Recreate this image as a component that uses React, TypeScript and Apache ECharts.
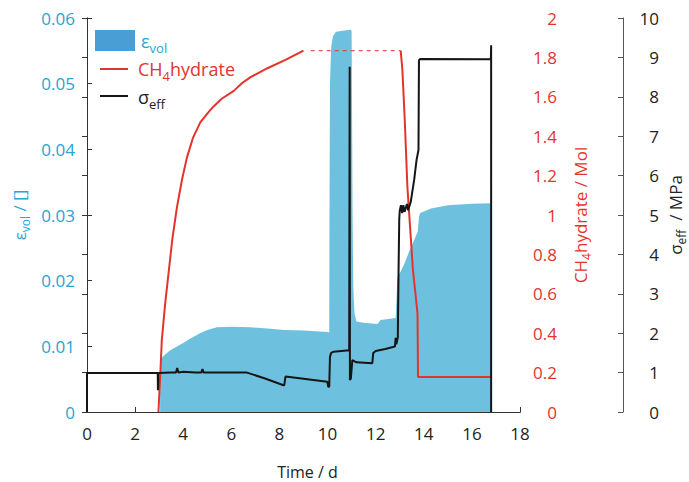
import React, { useEffect, useRef } from "react";
import * as echarts from "echarts";

const FONT = "'Open Sans', 'DejaVu Sans', sans-serif";
const CYAN = "#27a4d2";
const RED = "#e3342c";
const BLACK = "#151515";
const FILL = "#6ec1de";

// Time axis ticks (days)
const timeTicks = [0, 2, 4, 6, 8, 10, 12, 14, 16, 18];

// ε_vol [-] : [time d, value]
const volData: [number, number][] = [
  [3.04, 0.0079], [3.2, 0.0086], [3.46, 0.0094], [3.7, 0.0099], [4.0, 0.0105],
  [4.3, 0.0112], [4.7, 0.012], [5.0, 0.0125], [5.4, 0.0129], [6.0, 0.013],
  [6.8, 0.0129], [7.5, 0.0127], [8.2, 0.0125], [9.0, 0.0124], [10.0, 0.0122],
  [10.07, 0.0121], [10.08, 0.03], [10.1, 0.05], [10.15, 0.0555], [10.22, 0.0572],
  [10.35, 0.0579], [10.7, 0.0581], [10.97, 0.0582], [11.0, 0.058], [11.02, 0.045],
  [11.04, 0.03], [11.07, 0.019], [11.12, 0.015], [11.2, 0.0138], [11.5, 0.0136],
  [12.08, 0.0134], [12.2, 0.014], [12.83, 0.0143], [12.86, 0.0165], [12.9, 0.0205],
  [13.04, 0.0214], [13.17, 0.0224], [13.4, 0.0245], [13.6, 0.0262], [13.75, 0.0275],
  [13.8, 0.0297], [13.85, 0.0303], [14.3, 0.031], [15.0, 0.0315], [16.0, 0.0317],
  [16.8, 0.0318],
];

// CH4 hydrate [Mol]
const hydrateRise: [number, number][] = [
  [2.97, 0], [3.05, 0.2], [3.11, 0.365], [3.25, 0.55], [3.39, 0.705], [3.55, 0.88],
  [3.74, 1.04], [3.95, 1.18], [4.15, 1.29], [4.4, 1.39], [4.71, 1.47], [5.0, 1.515],
  [5.25, 1.55], [5.6, 1.59], [6.1, 1.63], [6.45, 1.67], [6.8, 1.7], [7.5, 1.745],
  [8.25, 1.787], [9.0, 1.834],
];
const hydrateGap: [number, number][] = [
  [9.3, 1.834], [13.04, 1.834],
];
const hydrateFall: [number, number][] = [
  [13.04, 1.834], [13.11, 1.74], [13.21, 1.48], [13.32, 1.14], [13.43, 0.94],
  [13.55, 0.72], [13.74, 0.5], [13.76, 0.178], [16.8, 0.178],
];

// σ_eff [MPa]
const sigmaData: [number, number][] = [
  [0, 0], [0, 0.99], [2.94, 0.99], [2.95, 0.55], [2.97, 0.99], [3.5, 1.0], [3.7, 1.0],
  [3.75, 1.12], [3.8, 1.0], [4.0, 1.02], [4.5, 1.0], [4.75, 1.0], [4.8, 1.09],
  [4.85, 1.0], [6.65, 1.0], [7.4, 0.85], [8.17, 0.68], [8.2, 0.68], [8.25, 0.9],
  [9.99, 0.77], [10.03, 0.64], [10.07, 0.64], [10.1, 1.4], [10.15, 1.5], [10.25, 1.53],
  [10.9, 1.57], [10.92, 8.76], [10.93, 0.81], [10.97, 0.85], [11.03, 1.32], [11.2, 1.26],
  [11.86, 1.24], [11.9, 1.5], [12.0, 1.55], [12.4, 1.6], [12.8, 1.66], [12.83, 1.88],
  [12.86, 1.72], [12.92, 1.9], [12.95, 3.5], [12.98, 4.9], [13.0, 5.1], [13.05, 5.25],
  [13.1, 5.05], [13.15, 5.25], [13.2, 5.08], [13.3, 5.28], [13.35, 5.12], [13.46, 5.34],
  [13.6, 5.89], [13.7, 6.4], [13.78, 6.65], [13.8, 8.93], [13.85, 8.96], [16.79, 8.95],
  [16.8, 9.31], [16.8, 0],
];

const sub = (color: string) => ({
  main: { fontSize: 17, lineHeight: 24, color, fontFamily: FONT },
  sub: { fontSize: 12, lineHeight: 12, verticalAlign: "bottom", color, fontFamily: FONT },
});

const gsub = (color: string) => ({
  main: { fontSize: 18, lineHeight: 26, fill: color, fontFamily: FONT },
  sub: { fontSize: 13, lineHeight: 13, verticalAlign: "bottom", fill: color, fontFamily: FONT },
});

export default function App() {
  const ref = useRef<HTMLDivElement>(null);
  useEffect(() => {
    document.body.style.margin = "0";
    if (!ref.current) return;
    const chart = echarts.init(ref.current, null, { renderer: "svg" });
    const axisLineStyle = { color: "#333", width: 1 };
    chart.setOption({
      animation: false,
      textStyle: { fontFamily: FONT },
      grid: { left: 87, right: 169, top: 18, bottom: 70, containLabel: false, outerBoundsMode: "none" },
      xAxis: [
        {
          type: "value",
          min: timeTicks[0],
          max: timeTicks[timeTicks.length - 1],
          interval: 2,
          position: "bottom",
          axisLine: { show: true, lineStyle: axisLineStyle },
          axisTick: { show: true, inside: true, length: 5, lineStyle: axisLineStyle },
          axisLabel: { fontSize: 17, color: "#222", margin: 13, fontFamily: FONT },
          splitLine: { show: false },
          name: "Time / d",
          nameLocation: "middle",
          nameGap: 52,
          nameMoveOverlap: false,
          nameTextStyle: { fontSize: 16, color: "#222", fontFamily: FONT, padding: [0, 0, 0, 8] },
        },
        {
          type: "value",
          min: 0,
          max: 18,
          position: "top",
          axisLine: { show: true, lineStyle: axisLineStyle },
          axisTick: { show: false },
          axisLabel: { show: false },
          splitLine: { show: false },
        },
      ],
      yAxis: [
        {
          type: "value",
          min: 0,
          max: 0.06,
          interval: 0.01,
          position: "left",
          axisLine: { show: true, lineStyle: axisLineStyle },
          axisTick: { show: true, inside: true, length: 5, lineStyle: axisLineStyle },
          axisLabel: { fontSize: 17, color: CYAN, margin: 12, fontFamily: FONT },
          splitLine: { show: false },
          name: "{main|ε}{sub|vol}{main| / []}",
          nameLocation: "middle",
          nameGap: 56,
          nameMoveOverlap: false,
          nameTextStyle: { color: CYAN, fontSize: 17, rich: sub(CYAN) },
        },
        {
          type: "value",
          min: 0,
          max: 2,
          interval: 0.2,
          position: "right",
          offset: 0,
          axisLine: { show: true, lineStyle: axisLineStyle },
          axisTick: { show: true, inside: true, length: 5, lineStyle: axisLineStyle },
          axisLabel: { fontSize: 17, color: RED, margin: 37, align: "right", fontFamily: FONT },
          splitLine: { show: false },
          name: "{main|CH}{sub|4}{main|hydrate / Mol}",
          nameLocation: "middle",
          nameGap: 48,
          nameMoveOverlap: false,
          nameTextStyle: { color: RED, fontSize: 17, rich: sub(RED) },
        },
        {
          type: "value",
          min: 0,
          max: 10,
          interval: 1,
          position: "right",
          offset: 103,
          axisLine: { show: true, lineStyle: { color: "#555", width: 1 } },
          axisTick: { show: true, inside: true, length: 5, lineStyle: { color: "#555" } },
          axisLabel: { fontSize: 17, color: "#222", margin: 36, align: "right", fontFamily: FONT },
          splitLine: { show: false },
          name: "{main|σ}{sub|eff}{main|  / MPa}",
          nameLocation: "middle",
          nameGap: 40,
          nameMoveOverlap: false,
          nameTextStyle: { color: "#222", fontSize: 17, rich: sub("#222") },
        },
      ],
      graphic: [
        { type: "rect", shape: { x: 95, y: 30, width: 40, height: 21 }, style: { fill: "#4a9ed6" } },
        {
          type: "text", x: 141, y: 41,
          style: { text: "{main|ε}{sub|vol}", rich: gsub(CYAN), verticalAlign: "middle", align: "left" },
        },
        { type: "line", shape: { x1: 100, y1: 69, x2: 128, y2: 69 }, style: { stroke: RED, lineWidth: 2 } },
        {
          type: "text", x: 138, y: 69,
          style: { text: "{main|CH}{sub|4}{main|hydrate}", rich: gsub(RED), verticalAlign: "middle", align: "left" },
        },
        { type: "line", shape: { x1: 100, y1: 96, x2: 128, y2: 96 }, style: { stroke: BLACK, lineWidth: 2 } },
        {
          type: "text", x: 138, y: 97,
          style: { text: "{main|σ}{sub|eff}", rich: gsub("#222"), verticalAlign: "middle", align: "left" },
        },
      ],
      series: [
        {
          name: "ε_vol",
          type: "line",
          xAxisIndex: 0,
          yAxisIndex: 0,
          data: volData,
          showSymbol: false,
          symbol: "none",
          lineStyle: { width: 0, color: FILL },
          areaStyle: { color: FILL, opacity: 1 },
          z: 1,
        },
        {
          name: "CH4hydrate",
          type: "line",
          yAxisIndex: 1,
          data: hydrateRise,
          symbol: "none",
          lineStyle: { width: 2, color: RED },
          z: 3,
        },
        {
          name: "CH4hydrate dashed",
          type: "line",
          yAxisIndex: 1,
          data: hydrateGap,
          symbol: "none",
          lineStyle: { width: 1, color: RED, type: [4, 4] },
          z: 3,
        },
        {
          name: "CH4hydrate fall",
          type: "line",
          yAxisIndex: 1,
          data: hydrateFall,
          symbol: "none",
          lineStyle: { width: 2, color: RED },
          z: 3,
        },
        {
          name: "σ_eff",
          type: "line",
          yAxisIndex: 2,
          data: sigmaData,
          symbol: "none",
          lineStyle: { width: 2, color: BLACK },
          z: 4,
        },
      ],
    });
    return () => chart.dispose();
  }, []);
  return <div ref={ref} style={{ width: 689, height: 482, position: "absolute", left: 0, top: 0 }} />;
}
